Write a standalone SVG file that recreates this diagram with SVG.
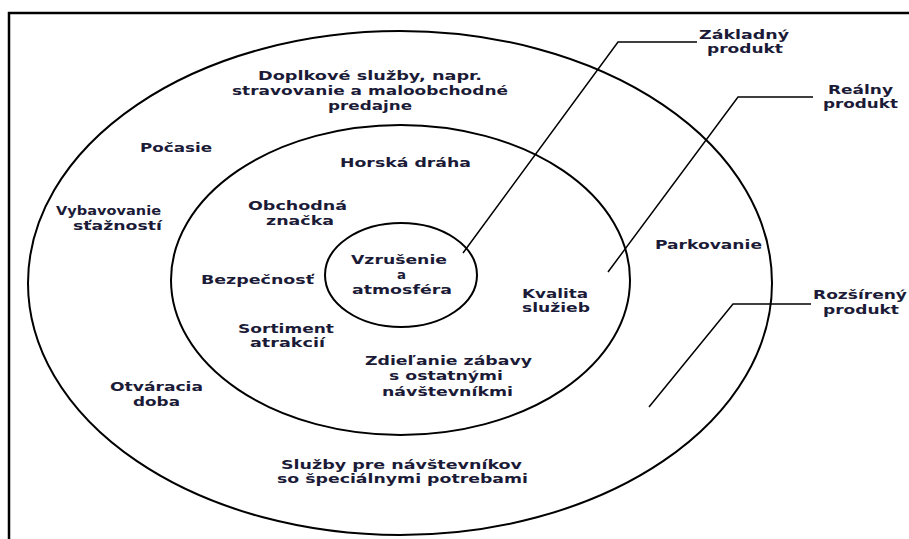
<svg xmlns="http://www.w3.org/2000/svg" width="909" height="539" viewBox="0 0 909 539">
  <style>
    .frame { fill: none; stroke: #000; stroke-width: 2.5; }
    .ring { fill: none; stroke: #000; stroke-width: 2; }
    .lead { fill: none; stroke: #000; stroke-width: 1.5; }
    .t { font-family: "DejaVu Sans", "Liberation Sans", sans-serif; font-weight: bold; font-size: 13px; fill: #1b1b38; text-anchor: middle; }
  </style>
  <rect width="909" height="539" fill="#fff"/>
  <!-- page frame (top and left edges) -->
  <path class="frame" d="M9 539 V13 H909"/>

  <!-- product levels -->
  <g id="rozsireny-produkt">
    <ellipse class="ring" cx="400" cy="283" rx="372" ry="252"/>
    <text class="t" x="370" y="80" textLength="224" lengthAdjust="spacingAndGlyphs">Doplkové služby, napr.</text>
    <text class="t" x="370" y="94.5" textLength="276" lengthAdjust="spacingAndGlyphs">stravovanie a maloobchodné</text>
    <text class="t" x="370" y="109.5" textLength="84" lengthAdjust="spacingAndGlyphs">predajne</text>
    <text class="t" x="176" y="152" textLength="72" lengthAdjust="spacingAndGlyphs">Počasie</text>
    <text class="t" x="108.5" y="215" textLength="105" lengthAdjust="spacingAndGlyphs">Vybavovanie</text>
    <text class="t" x="117.5" y="230" textLength="89" lengthAdjust="spacingAndGlyphs">sťažností</text>
    <text class="t" x="708.5" y="249" textLength="107" lengthAdjust="spacingAndGlyphs">Parkovanie</text>
    <text class="t" x="156.5" y="391" textLength="93" lengthAdjust="spacingAndGlyphs">Otváracia</text>
    <text class="t" x="156.5" y="406" textLength="47" lengthAdjust="spacingAndGlyphs">doba</text>
    <text class="t" x="401.5" y="468.5" textLength="241" lengthAdjust="spacingAndGlyphs">Služby pre návštevníkov</text>
    <text class="t" x="402.5" y="483" textLength="251" lengthAdjust="spacingAndGlyphs">so špeciálnymi potrebami</text>
  </g>

  <g id="realny-produkt">
    <ellipse class="ring" cx="400.5" cy="280" rx="229.5" ry="155"/>
    <text class="t" x="405.5" y="167" textLength="131" lengthAdjust="spacingAndGlyphs">Horská dráha</text>
    <text class="t" x="297.5" y="210" textLength="99" lengthAdjust="spacingAndGlyphs">Obchodná</text>
    <text class="t" x="300" y="225" textLength="68" lengthAdjust="spacingAndGlyphs">značka</text>
    <text class="t" x="257.5" y="284" textLength="113" lengthAdjust="spacingAndGlyphs">Bezpečnosť</text>
    <text class="t" x="555" y="297.5" textLength="66" lengthAdjust="spacingAndGlyphs">Kvalita</text>
    <text class="t" x="556" y="312" textLength="68" lengthAdjust="spacingAndGlyphs">služieb</text>
    <text class="t" x="286" y="333" textLength="96" lengthAdjust="spacingAndGlyphs">Sortiment</text>
    <text class="t" x="287.5" y="347" textLength="75" lengthAdjust="spacingAndGlyphs">atrakcií</text>
    <text class="t" x="448.5" y="365" textLength="167" lengthAdjust="spacingAndGlyphs">Zdieľanie zábavy</text>
    <text class="t" x="446" y="379.5" textLength="114" lengthAdjust="spacingAndGlyphs">s ostatnými</text>
    <text class="t" x="447.5" y="396" textLength="131" lengthAdjust="spacingAndGlyphs">návštevníkmi</text>
  </g>

  <g id="zakladny-produkt">
    <ellipse class="ring" cx="401" cy="275" rx="76" ry="52"/>
    <text class="t" x="399" y="264" textLength="96" lengthAdjust="spacingAndGlyphs">Vzrušenie</text>
    <text class="t" x="401.5" y="279" textLength="9" lengthAdjust="spacingAndGlyphs">a</text>
    <text class="t" x="402" y="294" textLength="100" lengthAdjust="spacingAndGlyphs">atmosféra</text>
  </g>

  <!-- callout labels -->
  <g id="label-zakladny">
    <text class="t" x="744" y="38.5" textLength="90" lengthAdjust="spacingAndGlyphs">Základný</text>
    <text class="t" x="745" y="53" textLength="76" lengthAdjust="spacingAndGlyphs">produkt</text>
  </g>
  <g id="label-realny">
    <text class="t" x="860.5" y="93.5" textLength="65" lengthAdjust="spacingAndGlyphs">Reálny</text>
    <text class="t" x="860.5" y="108" textLength="75" lengthAdjust="spacingAndGlyphs">produkt</text>
  </g>
  <g id="label-rozsireny">
    <text class="t" x="860" y="299" textLength="94" lengthAdjust="spacingAndGlyphs">Rozšírený</text>
    <text class="t" x="861" y="313.5" textLength="76" lengthAdjust="spacingAndGlyphs">produkt</text>
  </g>

  <!-- leader lines -->
  <g id="connectors">
    <polyline class="lead" points="463,253 618,42 697,42"/>
    <polyline class="lead" points="608,272 738,97 813,97"/>
    <polyline class="lead" points="649,407 733,304 811,304"/>
  </g>
</svg>
